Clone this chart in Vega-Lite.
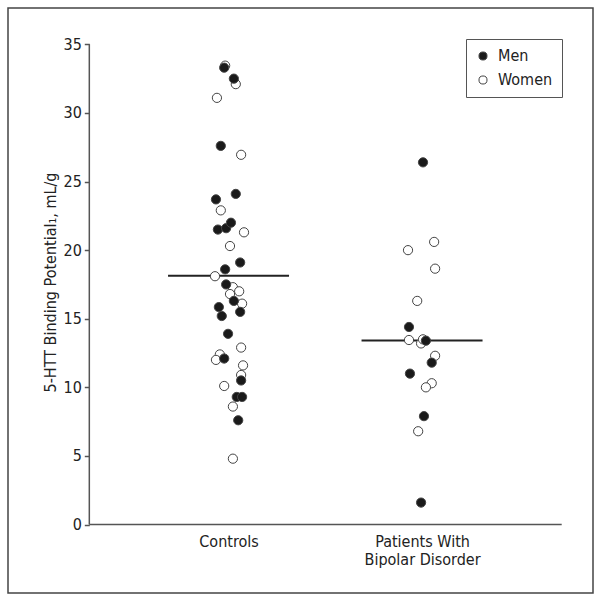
{
  "$schema": "https://vega.github.io/schema/vega-lite/v6.json",
  "width": 585,
  "height": 585,
  "padding": {"left": 8, "top": 8, "right": 8, "bottom": 8},
  "autosize": {"type": "none"},
  "background": "white",
  "config": {
    "view": {"stroke": "#444", "strokeWidth": 1.5},
    "font": "Liberation Sans Narrow, Arial Narrow, DejaVu Sans Condensed, sans-serif",
    "axis": {"labelFont": "Liberation Sans Narrow, Arial Narrow, DejaVu Sans Condensed, sans-serif", "titleFont": "Liberation Sans Narrow, Arial Narrow, DejaVu Sans Condensed, sans-serif", "grid": false},
    "legend": {"labelFont": "Liberation Sans Narrow, Arial Narrow, DejaVu Sans Condensed, sans-serif"}
  },
  "datasets": {
    "points": [
      {"group": "Controls", "sex": "Women", "value": 33.45, "x": 2.93},
      {"group": "Controls", "sex": "Women", "value": 32.1, "x": 3.15},
      {"group": "Controls", "sex": "Women", "value": 31.1, "x": 2.76},
      {"group": "Controls", "sex": "Women", "value": 26.95, "x": 3.26},
      {"group": "Controls", "sex": "Women", "value": 22.9, "x": 2.84},
      {"group": "Controls", "sex": "Women", "value": 21.3, "x": 3.32},
      {"group": "Controls", "sex": "Women", "value": 20.3, "x": 3.03},
      {"group": "Controls", "sex": "Women", "value": 18.1, "x": 2.72},
      {"group": "Controls", "sex": "Women", "value": 17.3, "x": 3.09},
      {"group": "Controls", "sex": "Women", "value": 17.0, "x": 3.22},
      {"group": "Controls", "sex": "Women", "value": 16.8, "x": 3.03},
      {"group": "Controls", "sex": "Women", "value": 16.1, "x": 3.28},
      {"group": "Controls", "sex": "Women", "value": 12.9, "x": 3.26},
      {"group": "Controls", "sex": "Women", "value": 12.4, "x": 2.82},
      {"group": "Controls", "sex": "Women", "value": 12.0, "x": 2.74},
      {"group": "Controls", "sex": "Women", "value": 11.6, "x": 3.3},
      {"group": "Controls", "sex": "Women", "value": 10.9, "x": 3.26},
      {"group": "Controls", "sex": "Women", "value": 10.1, "x": 2.91},
      {"group": "Controls", "sex": "Women", "value": 8.6, "x": 3.09},
      {"group": "Controls", "sex": "Women", "value": 4.8, "x": 3.09},
      {"group": "Patients", "sex": "Women", "value": 20.6, "x": 7.25},
      {"group": "Patients", "sex": "Women", "value": 20.0, "x": 6.71},
      {"group": "Patients", "sex": "Women", "value": 18.65, "x": 7.27},
      {"group": "Patients", "sex": "Women", "value": 16.3, "x": 6.9},
      {"group": "Patients", "sex": "Women", "value": 13.45, "x": 6.73},
      {"group": "Patients", "sex": "Women", "value": 13.2, "x": 6.98},
      {"group": "Patients", "sex": "Women", "value": 13.5, "x": 7.02},
      {"group": "Patients", "sex": "Women", "value": 12.3, "x": 7.27},
      {"group": "Patients", "sex": "Women", "value": 10.3, "x": 7.2},
      {"group": "Patients", "sex": "Women", "value": 10.0, "x": 7.08},
      {"group": "Patients", "sex": "Women", "value": 6.8, "x": 6.92},
      {"group": "Controls", "sex": "Men", "value": 33.3, "x": 2.91},
      {"group": "Controls", "sex": "Men", "value": 32.5, "x": 3.11},
      {"group": "Controls", "sex": "Men", "value": 27.6, "x": 2.84},
      {"group": "Controls", "sex": "Men", "value": 24.1, "x": 3.15},
      {"group": "Controls", "sex": "Men", "value": 23.7, "x": 2.74},
      {"group": "Controls", "sex": "Men", "value": 21.5, "x": 2.78},
      {"group": "Controls", "sex": "Men", "value": 21.6, "x": 2.95},
      {"group": "Controls", "sex": "Men", "value": 22.0, "x": 3.05},
      {"group": "Controls", "sex": "Men", "value": 19.1, "x": 3.24},
      {"group": "Controls", "sex": "Men", "value": 18.6, "x": 2.93},
      {"group": "Controls", "sex": "Men", "value": 17.5, "x": 2.95},
      {"group": "Controls", "sex": "Men", "value": 16.3, "x": 3.11},
      {"group": "Controls", "sex": "Men", "value": 15.85, "x": 2.8},
      {"group": "Controls", "sex": "Men", "value": 15.2, "x": 2.86},
      {"group": "Controls", "sex": "Men", "value": 15.5, "x": 3.24},
      {"group": "Controls", "sex": "Men", "value": 13.9, "x": 2.99},
      {"group": "Controls", "sex": "Men", "value": 12.1, "x": 2.91},
      {"group": "Controls", "sex": "Men", "value": 10.5, "x": 3.26},
      {"group": "Controls", "sex": "Men", "value": 9.3, "x": 3.17},
      {"group": "Controls", "sex": "Men", "value": 9.3, "x": 3.28},
      {"group": "Controls", "sex": "Men", "value": 7.6, "x": 3.2},
      {"group": "Patients", "sex": "Men", "value": 26.4, "x": 7.02},
      {"group": "Patients", "sex": "Men", "value": 14.4, "x": 6.73},
      {"group": "Patients", "sex": "Men", "value": 13.4, "x": 7.08},
      {"group": "Patients", "sex": "Men", "value": 11.8, "x": 7.2},
      {"group": "Patients", "sex": "Men", "value": 11.0, "x": 6.75},
      {"group": "Patients", "sex": "Men", "value": 7.9, "x": 7.04},
      {"group": "Patients", "sex": "Men", "value": 1.6, "x": 6.98}
    ],
    "groups": [
      {"group": "Controls", "center": 3},
      {"group": "Patients", "center": 7}
    ]
  },
  "layer": [
    {
      "data": {"values": [{}]},
      "mark": {"type": "rule", "color": "#555", "strokeWidth": 1.5},
      "encoding": {
        "x": {"datum": 0.122, "type": "quantitative"},
        "y": {"datum": 0, "type": "quantitative"},
        "y2": {"datum": 35}
      }
    },
    {
      "data": {"values": [{}]},
      "mark": {"type": "rule", "color": "#555", "strokeWidth": 1.5},
      "encoding": {
        "x": {"datum": 0.122, "type": "quantitative"},
        "x2": {"datum": 9.887},
        "y": {"datum": 0, "type": "quantitative"}
      }
    },
    {
      "data": {"name": "points"},
      "transform": [
        {"aggregate": [{"op": "mean", "field": "value", "as": "mean"}], "groupby": ["group"]},
        {"lookup": "group", "from": {"data": {"name": "groups"}, "key": "group", "fields": ["center"]}}
      ],
      "mark": {"type": "tick", "orient": "horizontal", "size": 121, "thickness": 2, "color": "#222", "opacity": 1},
      "encoding": {
        "x": {"field": "center", "type": "quantitative"},
        "y": {"field": "mean", "type": "quantitative"}
      }
    },
    {
      "data": {"name": "points"},
      "mark": {"type": "point", "filled": true, "size": 85, "stroke": "#444", "strokeWidth": 1, "opacity": 1},
      "encoding": {
        "x": {
          "field": "x",
          "type": "quantitative",
          "scale": {"domain": [-1.559, 10.534], "nice": false, "zero": false},
          "axis": {
            "orient": "bottom",
            "offset": -68.7,
            "values": [3, 7],
            "domain": false,
            "ticks": false,
            "tickSize": 0,
            "labelPadding": 9,
            "labelFontSize": 16,
            "labelColor": "#222",
            "labelLineHeight": 18,
            "labelBaseline": "top",
            "labelExpr": "datum.value == 3 ? 'Controls' : ['Patients With', 'Bipolar Disorder']",
            "title": null
          }
        },
        "y": {
          "field": "value",
          "type": "quantitative",
          "scale": {"domain": [-4.99, 37.65], "nice": false, "zero": false},
          "axis": {
            "orient": "left",
            "offset": -81.3,
            "values": [0, 5, 10, 15, 20, 25, 30, 35],
            "domain": false,
            "ticks": true,
            "tickSize": 5,
            "tickColor": "#555",
            "tickWidth": 1.5,
            "labelPadding": 3,
            "labelFontSize": 16,
            "labelColor": "#222",
            "title": "5-HTT Binding Potential₁, mL/g",
            "titleFontSize": 16,
            "titleFontWeight": "normal",
            "titleColor": "#222",
            "titleY": 274,
            "titlePadding": 4
          }
        },
        "fill": {
          "field": "sex",
          "type": "nominal",
          "scale": {"domain": ["Men", "Women"], "range": ["#1a1a1a", "#ffffff"]},
          "legend": {
            "title": null,
            "orient": "top-right",
            "offset": 31,
            "padding": 9,
            "strokeColor": "#555",
            "fillColor": "white",
            "labelFontSize": 16,
            "labelColor": "#222",
            "symbolType": "circle",
            "symbolSize": 65,
            "symbolStrokeColor": "#444",
            "symbolStrokeWidth": 1,
            "rowPadding": 8,
            "labelOffset": 7
          }
        }
      }
    }
  ]
}
